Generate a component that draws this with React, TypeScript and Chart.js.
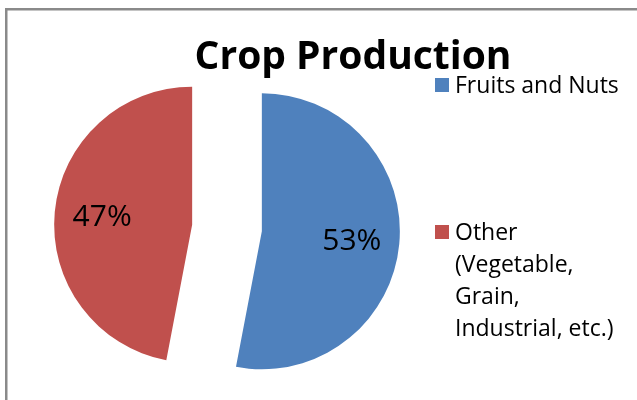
import React, { useEffect, useRef } from "react";
import { Chart, registerables } from "chart.js";

Chart.register(...registerables);

const chartTitle = "Crop Production";
const categories = ["Fruits and Nuts", "Other (Vegetable, Grain, Industrial, etc.)"];
const values = [53, 47];
const sliceColors = ["#4F81BD", "#C0504D"];

const FONT = '"Open Sans", "Noto Sans", "DejaVu Sans", sans-serif';
const EXPLODE = 35;

function wrapText(ctx: CanvasRenderingContext2D, text: string, maxW: number): string[] {
  const words = text.split(" ");
  const lines: string[] = [];
  let cur = "";
  for (const w of words) {
    const test = cur ? cur + " " + w : w;
    if (cur && ctx.measureText(test).width > maxW) {
      lines.push(cur);
      cur = w;
    } else {
      cur = test;
    }
  }
  if (cur) lines.push(cur);
  return lines;
}

const decorPlugin = {
  id: "decor",
  beforeDraw(chart: any) {
    const ctx: CanvasRenderingContext2D = chart.ctx;
    ctx.save();
    ctx.fillStyle = "#ffffff";
    ctx.fillRect(0, 0, chart.width, chart.height);
    ctx.strokeStyle = "#8a8a8a";
    ctx.lineWidth = 2.5;
    ctx.strokeRect(6.25, 9.25, chart.width + 20, chart.height + 20);
    ctx.restore();
  },
  beforeDatasetDraw(chart: any, args: any) {
    const ctx: CanvasRenderingContext2D = chart.ctx;
    args.meta.data.forEach((arc: any) => {
      const mid = (arc.startAngle + arc.endAngle) / 2;
      ctx.save();
      ctx.translate(Math.cos(mid) * EXPLODE, Math.sin(mid) * EXPLODE);
      arc.draw(ctx);
      ctx.restore();
    });
    return false;
  },
  afterDraw(chart: any) {
    const ctx: CanvasRenderingContext2D = chart.ctx;
    ctx.save();
    ctx.fillStyle = "#000000";
    // title
    ctx.font = `bold 39px ${FONT}`;
    ctx.textAlign = "center";
    ctx.textBaseline = "alphabetic";
    ctx.fillText(chartTitle, 353, 69);

    // percentage labels
    const meta = chart.getDatasetMeta(0);
    const total = values.reduce((a, b) => a + b, 0);
    ctx.font = `30px ${FONT}`;
    meta.data.forEach((arc: any, i: number) => {
      const p = arc.getProps(["x", "y", "startAngle", "endAngle", "outerRadius"], true);
      const mid = (p.startAngle + p.endAngle) / 2;
      const d = EXPLODE + p.outerRadius * 0.655;
      const lx = p.x + Math.cos(mid) * d;
      const ly = p.y + Math.sin(mid) * d;
      ctx.fillText(Math.round((values[i] / total) * 100) + "%", lx, ly + 10);
    });

    // legend
    const legendX = 435;
    const sq = 14;
    const textX = 455;
    const lineH = 32;
    const entryBaselines = [93, 240];
    ctx.font = `23px ${FONT}`;
    ctx.textAlign = "left";
    categories.forEach((label, i) => {
      const base = entryBaselines[i];
      ctx.fillStyle = sliceColors[i];
      ctx.fillRect(legendX, base - 15, sq, sq);
      ctx.fillStyle = "#000000";
      const lines = wrapText(ctx, label, 170);
      lines.forEach((ln, j) => ctx.fillText(ln, textX, base + j * lineH));
    });
    ctx.restore();
  },
};

export default function App() {
  const ref = useRef<HTMLCanvasElement | null>(null);
  useEffect(() => {
    if (!ref.current) return;
    const chart = new Chart(ref.current, {
      type: "pie",
      data: {
        labels: categories,
        datasets: [
          {
            data: values,
            backgroundColor: sliceColors,
            borderWidth: 0,
            offset: 0,
            hoverOffset: 0,
          },
        ],
      },
      options: {
        responsive: false,
        animation: false,
        devicePixelRatio: 1,
        radius: 138,
        events: [],
        layout: { padding: { left: 77, right: 260, top: 78, bottom: 22 } },
        plugins: {
          legend: { display: false },
          title: { display: false },
          tooltip: { enabled: false },
        },
      } as any,
      plugins: [decorPlugin],
    });
    return () => chart.destroy();
  }, []);
  return (
    <div style={{ position: "absolute", left: 0, top: 0, width: 637, height: 400, overflow: "hidden" }}>
      <canvas ref={ref} width={637} height={400} style={{ display: "block" }} />
    </div>
  );
}
